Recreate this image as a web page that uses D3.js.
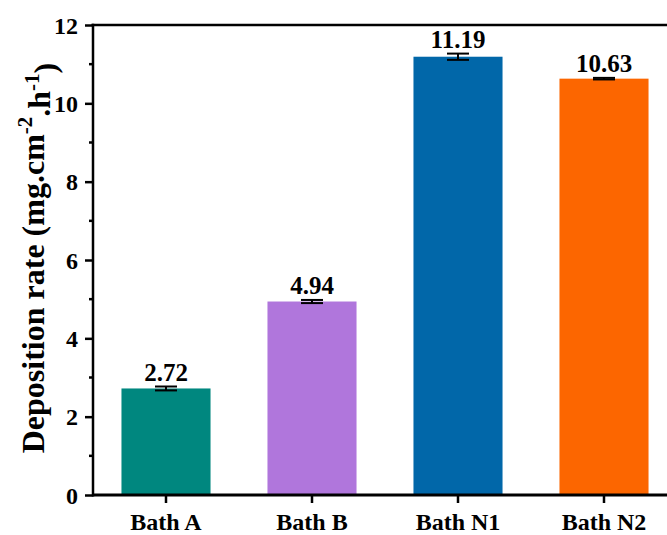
<!DOCTYPE html>
<html>
<head>
<meta charset="utf-8">
<script src="https://cdn.jsdelivr.net/npm/d3@7"></script>
<style>
  html, body { margin: 0; padding: 0; background: #fff; }
  svg { display: block; }
  text { font-family: "Liberation Serif", "Times New Roman", serif; font-weight: bold; fill: #000; }
</style>
</head>
<body>
<svg id="chart" width="667" height="535"></svg>
<script>
// Deposition rate for each bath, with standard deviation
const categories = ["Bath A", "Bath B", "Bath N1", "Bath N2"];
const rates = [2.72, 4.94, 11.19, 10.63];
const errors = [0.05, 0.04, 0.08, 0.02];
const valueLabels = ["2.72", "4.94", "11.19", "10.63"];
const barColors = ["#00877F", "#B076DC", "#0167A9", "#FC6600"];
const majorTicks = [0, 2, 4, 6, 8, 10, 12];
const minorTicks = [1, 3, 5, 7, 9, 11];

const svg = d3.select("#chart");
const plotLeft = 93, plotRight = 677, plotTop = 25, plotBottom = 495;

const x = d3.scaleBand()
  .domain(categories)
  .range([plotLeft, plotRight])
  .paddingInner(0.39)
  .paddingOuter(0.195);

const y = d3.scaleLinear().domain([0, 12]).range([plotBottom, plotTop]);

// bars
svg.append("g").selectAll("rect")
  .data(categories)
  .join("rect")
  .attr("x", d => x(d))
  .attr("width", x.bandwidth())
  .attr("y", (d, i) => y(rates[i]))
  .attr("height", (d, i) => y(0) - y(rates[i]))
  .attr("fill", (d, i) => barColors[i]);

// error bars
const eb = svg.append("g").attr("stroke", "#000").attr("stroke-width", 2);
categories.forEach((c, i) => {
  const cx = x(c) + x.bandwidth() / 2;
  const hi = y(rates[i] + errors[i]), lo = y(rates[i] - errors[i]);
  eb.append("line").attr("x1", cx).attr("x2", cx).attr("y1", hi).attr("y2", lo);
  eb.append("line").attr("x1", cx - 11).attr("x2", cx + 11).attr("y1", hi).attr("y2", hi);
  eb.append("line").attr("x1", cx - 11).attr("x2", cx + 11).attr("y1", lo).attr("y2", lo);
});

// value labels
svg.append("g").selectAll("text")
  .data(categories)
  .join("text")
  .attr("x", d => x(d) + x.bandwidth() / 2)
  .attr("y", (d, i) => y(rates[i] + errors[i]) - 6)
  .attr("text-anchor", "middle")
  .style("font-size", "25px")
  .text((d, i) => valueLabels[i]);

// y axis
const yAxis = svg.append("g")
  .attr("transform", `translate(${plotLeft},0)`)
  .call(d3.axisLeft(y).tickValues(majorTicks).tickFormat(d3.format("d")).tickSize(8).tickPadding(7));
yAxis.selectAll(".tick text").style("font-size", "24px").attr("dy", "0.34em");
yAxis.append("g").selectAll("line")
  .data(minorTicks)
  .join("line")
  .attr("x1", -4).attr("x2", 0)
  .attr("y1", d => y(d)).attr("y2", d => y(d))
  .attr("stroke", "#000").attr("stroke-width", 2.5);

// x axis
const xAxis = svg.append("g")
  .attr("transform", `translate(0,${plotBottom})`)
  .call(d3.axisBottom(x).tickSize(8).tickPadding(8));
xAxis.selectAll(".tick text").style("font-size", "24px").attr("dy", "0.78em");

svg.selectAll(".domain").remove();
svg.selectAll(".tick line").attr("stroke", "#000").attr("stroke-width", 2.5);

// frame lines
svg.append("line").attr("x1", plotLeft).attr("x2", 667).attr("y1", plotBottom).attr("y2", plotBottom)
  .attr("stroke", "#000").attr("stroke-width", 3);
svg.append("line").attr("x1", plotLeft - 1.5).attr("x2", 667).attr("y1", plotTop).attr("y2", plotTop)
  .attr("stroke", "#000").attr("stroke-width", 2.5);
svg.append("line").attr("x1", plotLeft).attr("x2", plotLeft).attr("y1", plotTop - 1.2).attr("y2", plotBottom + 1.5)
  .attr("stroke", "#000").attr("stroke-width", 2.5);

// y axis title
const title = svg.append("text")
  .attr("transform", "translate(44,258) rotate(-90)")
  .attr("text-anchor", "middle")
  .style("font-size", "32px");
title.append("tspan").text("Deposition rate (mg.cm");
title.append("tspan").attr("dy", "-0.55em").style("font-size", "21px").text("-2");
title.append("tspan").attr("dy", "0.55em").text(".h");
title.append("tspan").attr("dy", "-0.55em").style("font-size", "21px").text("-1");
title.append("tspan").attr("dy", "0.55em").text(")");
</script>
</body>
</html>
